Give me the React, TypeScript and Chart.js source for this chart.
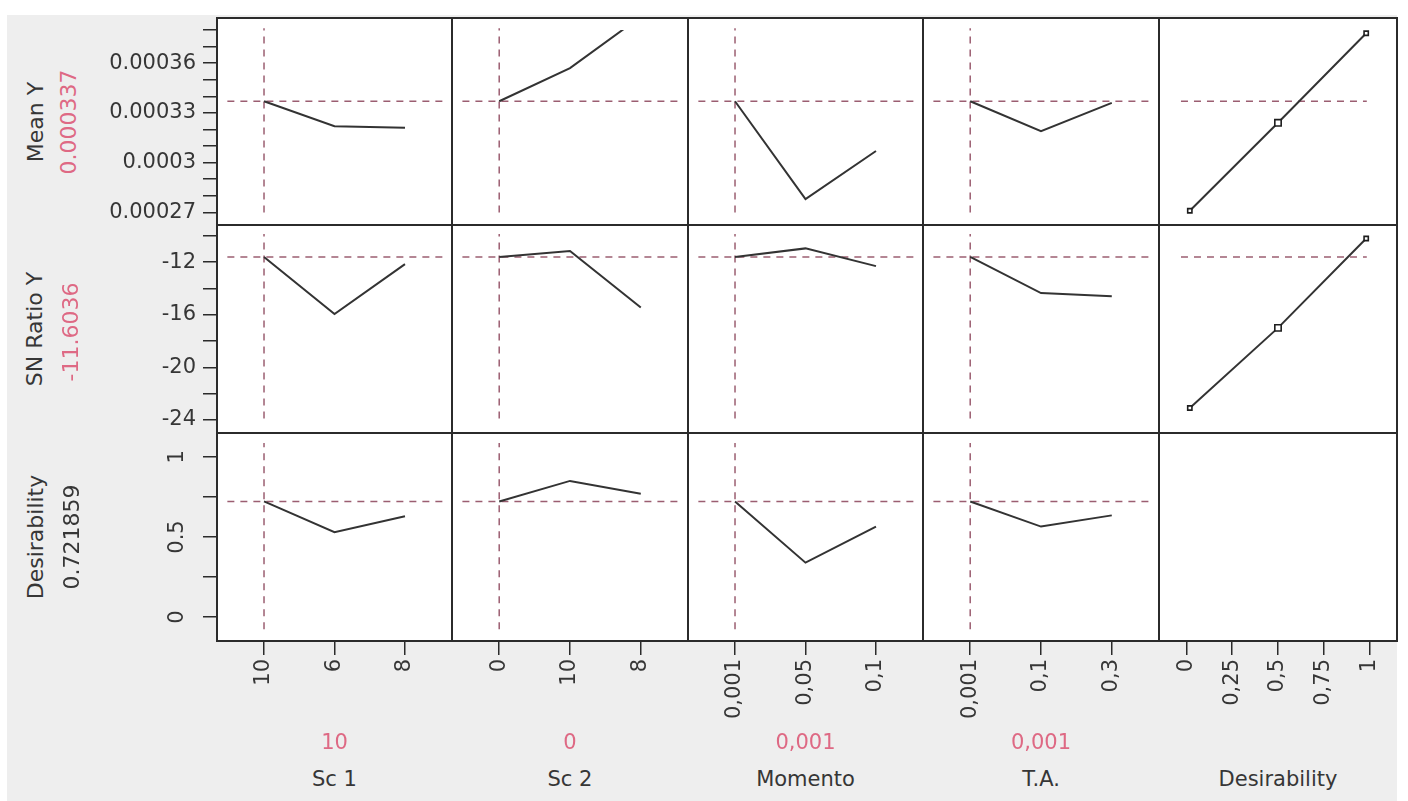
import React, { useEffect, useRef } from 'react';
import { Chart, registerables } from 'chart.js';

Chart.register(...registerables);

// ---------- data ----------
const factorNames = ['Sc 1', 'Sc 2', 'Momento', 'T.A.', 'Desirability'];
const factorLevels = [
  ['10', '6', '8'],
  ['0', '10', '8'],
  ['0,001', '0,05', '0,1'],
  ['0,001', '0,1', '0,3'],
];
const currentSettings = ['10', '0', '0,001', '0,001'];

const responseNames = ['Mean Y', 'SN Ratio Y', 'Desirability'];
const responseCurrentText = ['0.000337', '-11.6036', '0.721859'];
const responseCurrentValue = [0.000337, -11.6036, 0.721859];

// profile traces per factor (values at each factor level)
const meanYProfiles = [
  [0.000337, 0.000322, 0.000321],
  [0.000337, 0.000357, 0.000388],
  [0.000337, 0.000278, 0.000307],
  [0.000337, 0.000319, 0.000336],
];
const snRatioProfiles = [
  [-11.6036, -15.95, -12.15],
  [-11.6036, -11.15, -15.45],
  [-11.6036, -10.95, -12.3],
  [-11.6036, -14.35, -14.6],
];
const desirabilityProfiles = [
  [0.721859, 0.53, 0.63],
  [0.721859, 0.85, 0.77],
  [0.721859, 0.34, 0.565],
  [0.721859, 0.565, 0.635],
];
const profilesByResponse = [meanYProfiles, snRatioProfiles, desirabilityProfiles];

// desirability functions (desirability on x, response on y)
const desirabilityLevels = [0.0183, 0.5, 0.9817];
const meanYDesirability = [0.000271, 0.000324, 0.000378];
const snRatioDesirability = [-23.1, -17.0, -10.2];
const desirabilityCurves = [meanYDesirability, snRatioDesirability];

// axis ranges and ticks
const yRanges = [
  [0.0002624, 0.0003872],
  [-25.0, -9.17],
  [-0.149, 1.149],
];
const meanYTicks = [0.00027, 0.00028, 0.00029, 0.0003, 0.00031, 0.00032, 0.00033, 0.00034, 0.00035, 0.00036, 0.00037, 0.00038];
const meanYTickLabels = ['0.00027', '', '', '0.0003', '', '', '0.00033', '', '', '0.00036', '', ''];
const snTicks = [-24, -22, -20, -18, -16, -14, -12, -10];
const snTickLabels = ['-24', '', '-20', '', '-16', '', '-12', ''];
const desTicks = [0, 0.25, 0.5, 0.75, 1];
const desTickLabels = ['0', '', '0.5', '', '1'];
const yTickValues = [meanYTicks, snTicks, desTicks];
const yTickLabels = [meanYTickLabels, snTickLabels, desTickLabels];

const levelRange = [-0.667, 2.667];
const levelTicks = [0, 1, 2];
const desXRange = [-0.15, 1.15];
const desXTicks = [0, 0.25, 0.5, 0.75, 1];
const desXTickLabels = ['0', '0,25', '0,5', '0,75', '1'];

// reference (current value) line extents
const vRefRange = [
  [0.00027, 0.000381],
  [-23.9, -9.86],
  [-0.075, 1.087],
];
const hRefLevelSpan = [-0.52, 2.55];
const hRefDesSpan = [-0.03, 0.985];

// ---------- layout ----------
const colX = [217, 452, 688, 923, 1159, 1397];
const rowY = [18, 225, 433, 641];
const PAD = 3;
const YW = 117;
const XH = 90;

const FONT = '"DejaVu Sans", sans-serif';
const TEXT = '#363636';
const RED = 'rgb(222, 105, 132)';
const REF = 'rgba(150, 85, 105, 0.95)';
const LINE = '#333333';
const FRAME = '#2b2b2b';

function buildConfig(r: number, c: number): any {
  const showY = c === 0;
  const showX = r === 2;
  const rotatedY = r === 2;

  const datasets: any[] = [];
  if (c < 4) {
    const prof = profilesByResponse[r][c];
    datasets.push({
      data: factorLevels[c].map((_, i) => ({ x: i, y: prof[i] })),
      borderColor: LINE,
      borderWidth: 2,
      pointRadius: 0,
      showLine: true,
      clip: r === 0 && c === 1 ? { left: 0, top: -12, right: 0, bottom: 0 } : undefined,
    });
    const cur = responseCurrentValue[r];
    datasets.push({
      data: [{ x: hRefLevelSpan[0], y: cur }, { x: hRefLevelSpan[1], y: cur }],
      borderColor: REF,
      borderWidth: 1.5,
      borderDash: [7, 6],
      pointRadius: 0,
      showLine: true,
    });
    const ci = factorLevels[c].indexOf(currentSettings[c]);
    datasets.push({
      data: [{ x: ci, y: vRefRange[r][0] }, { x: ci, y: vRefRange[r][1] }],
      borderColor: REF,
      borderWidth: 1.5,
      borderDash: [7, 6],
      pointRadius: 0,
      showLine: true,
    });
  } else if (r < 2) {
    const curve = desirabilityCurves[r];
    datasets.push({
      data: desirabilityLevels.map((d, i) => ({ x: d, y: curve[i] })),
      borderColor: LINE,
      borderWidth: 2,
      showLine: true,
      pointStyle: 'rect',
      pointRadius: (ctx: any) => (ctx.dataIndex === 1 ? 4.5 : 3),
      pointBackgroundColor: '#ffffff',
      pointBorderColor: '#1e1e1e',
      pointBorderWidth: 1.6,
    });
    const cur = responseCurrentValue[r];
    datasets.push({
      data: [{ x: hRefDesSpan[0], y: cur }, { x: hRefDesSpan[1], y: cur }],
      borderColor: REF,
      borderWidth: 1.5,
      borderDash: [7, 6],
      pointRadius: 0,
      showLine: true,
    });
  }

  const isDes = c === 4;
  const xVals = isDes ? desXTicks : levelTicks;
  const xLabels = isDes ? desXTickLabels : factorLevels[c];
  const xr = isDes ? desXRange : levelRange;

  const yVals = yTickValues[r];
  const yLabels = yTickLabels[r];

  const xScale: any = {
    type: 'linear',
    min: xr[0],
    max: xr[1],
    bounds: 'data',
    display: showX,
    grid: { drawOnChartArea: false, drawTicks: true, tickLength: 14, color: FRAME, lineWidth: 1.5 },
    border: { display: false },
    ticks: {
      display: true,
      autoSkip: false,
      minRotation: 90,
      maxRotation: 90,
      padding: 4,
      color: TEXT,
      font: { size: 21, family: FONT },
      callback: (_v: any, i: number) => xLabels[i] ?? '',
    },
    afterBuildTicks: (s: any) => {
      s.ticks = xVals.map((v) => ({ value: v }));
    },
  };
  if (showX) {
    xScale.afterFit = (s: any) => {
      s.height = XH;
      s.paddingLeft = 0;
      s.paddingRight = 0;
    };
  }

  const yScale: any = {
    type: 'linear',
    min: yRanges[r][0],
    max: yRanges[r][1],
    bounds: 'data',
    display: showY,
    grid: { drawOnChartArea: false, drawTicks: true, tickLength: 14, color: FRAME, lineWidth: 1.5 },
    border: { display: false },
    ticks: {
      display: !rotatedY,
      autoSkip: false,
      padding: 7,
      color: TEXT,
      font: { size: 21, family: FONT },
      callback: (_v: any, i: number) => yLabels[i] ?? '',
    },
    afterBuildTicks: (s: any) => {
      s.ticks = yVals.map((v) => ({ value: v }));
    },
  };
  if (showY) {
    yScale.afterFit = (s: any) => {
      s.width = YW;
      s.paddingTop = 0;
      s.paddingBottom = 0;
    };
  }

  const panelPlugin = {
    id: 'panelFrame',
    beforeDatasetsDraw(chart: any) {
      const { ctx, chartArea: a } = chart;
      ctx.save();
      ctx.fillStyle = '#ffffff';
      ctx.fillRect(a.left, a.top, a.right - a.left, a.bottom - a.top);
      ctx.restore();
    },
    afterDraw(chart: any) {
      const { ctx, chartArea: a } = chart;
      ctx.save();
      ctx.strokeStyle = FRAME;
      ctx.lineWidth = 2;
      ctx.strokeRect(a.left, a.top, a.right - a.left, a.bottom - a.top);
      if (showY && rotatedY) {
        const ys = chart.scales.y;
        ctx.fillStyle = TEXT;
        ctx.font = `21px ${FONT}`;
        ctx.textAlign = 'center';
        ctx.textBaseline = 'middle';
        yVals.forEach((v, i) => {
          const lab = yLabels[i];
          if (!lab) return;
          const py = ys.getPixelForValue(v);
          ctx.save();
          ctx.translate(a.left - 39, py);
          ctx.rotate(-Math.PI / 2);
          ctx.fillText(lab, 0, 0);
          ctx.restore();
        });
      }
      ctx.restore();
    },
  };

  return {
    type: 'scatter',
    data: { datasets },
    options: {
      animation: false,
      responsive: false,
      maintainAspectRatio: false,
      events: [],
      layout: { padding: PAD, autoPadding: false },
      plugins: { legend: { display: false }, tooltip: { enabled: false } },
      scales: { x: xScale, y: yScale },
    },
    plugins: [panelPlugin],
  };
}

function geometry(r: number, c: number) {
  const left = colX[c] - PAD - (c === 0 ? YW : 0);
  const top = rowY[r] - PAD;
  const w = colX[c + 1] - colX[c] + 2 * PAD + (c === 0 ? YW : 0);
  const h = rowY[r + 1] - rowY[r] + 2 * PAD + (r === 2 ? XH : 0);
  return { left, top, w, h };
}

function Panel({ r, c }: { r: number; c: number }) {
  const ref = useRef<HTMLCanvasElement | null>(null);
  useEffect(() => {
    if (!ref.current) return;
    const chart = new Chart(ref.current, buildConfig(r, c));
    return () => chart.destroy();
  }, [r, c]);
  const g = geometry(r, c);
  return (
    <canvas
      ref={ref}
      width={g.w}
      height={g.h}
      style={{ position: 'absolute', left: g.left, top: g.top, width: g.w, height: g.h }}
    />
  );
}

function RotText({ x, y, text, color }: { x: number; y: number; text: string; color: string }) {
  return (
    <div
      style={{
        position: 'absolute',
        left: x,
        top: y,
        transform: 'translate(-50%, -50%) rotate(-90deg)',
        whiteSpace: 'nowrap',
        fontFamily: FONT,
        fontSize: 22,
        lineHeight: '24px',
        color,
      }}
    >
      {text}
    </div>
  );
}

function HText({ x, y, text, color }: { x: number; y: number; text: string; color: string }) {
  return (
    <div
      style={{
        position: 'absolute',
        left: x,
        top: y,
        transform: 'translate(-50%, -50%)',
        whiteSpace: 'nowrap',
        fontFamily: FONT,
        fontSize: 21,
        lineHeight: '24px',
        color,
      }}
    >
      {text}
    </div>
  );
}

export default function App() {
  const panels: JSX.Element[] = [];
  for (let r = 0; r < 3; r++) {
    for (let c = 0; c < 5; c++) {
      panels.push(<Panel key={`${r}-${c}`} r={r} c={c} />);
    }
  }
  const titleX = [36, 35, 36];
  const valueX = [69, 71, 72];
  return (
    <div
      style={{
        position: 'fixed',
        left: 0,
        top: 0,
        width: 1408,
        height: 801,
        overflow: 'hidden',
        background: '#ffffff',
      }}
    >
      <div style={{ position: 'absolute', left: 7, top: 15, width: 1390, height: 786, background: '#eeeeee' }} />
      {panels}
      {responseNames.map((n, r) => {
        const cy = (rowY[r] + rowY[r + 1]) / 2;
        return (
          <React.Fragment key={n}>
            <RotText x={titleX[r]} y={cy} text={n} color={TEXT} />
            <RotText x={valueX[r]} y={cy + (r === 1 ? 3 : 0)} text={responseCurrentText[r]} color={r < 2 ? RED : TEXT} />
          </React.Fragment>
        );
      })}
      {currentSettings.map((s, c) => (
        <HText key={`cur-${c}`} x={(colX[c] + colX[c + 1]) / 2} y={742} text={s} color={RED} />
      ))}
      {factorNames.map((n, c) => (
        <HText key={`name-${c}`} x={(colX[c] + colX[c + 1]) / 2} y={779} text={n} color={TEXT} />
      ))}
    </div>
  );
}
